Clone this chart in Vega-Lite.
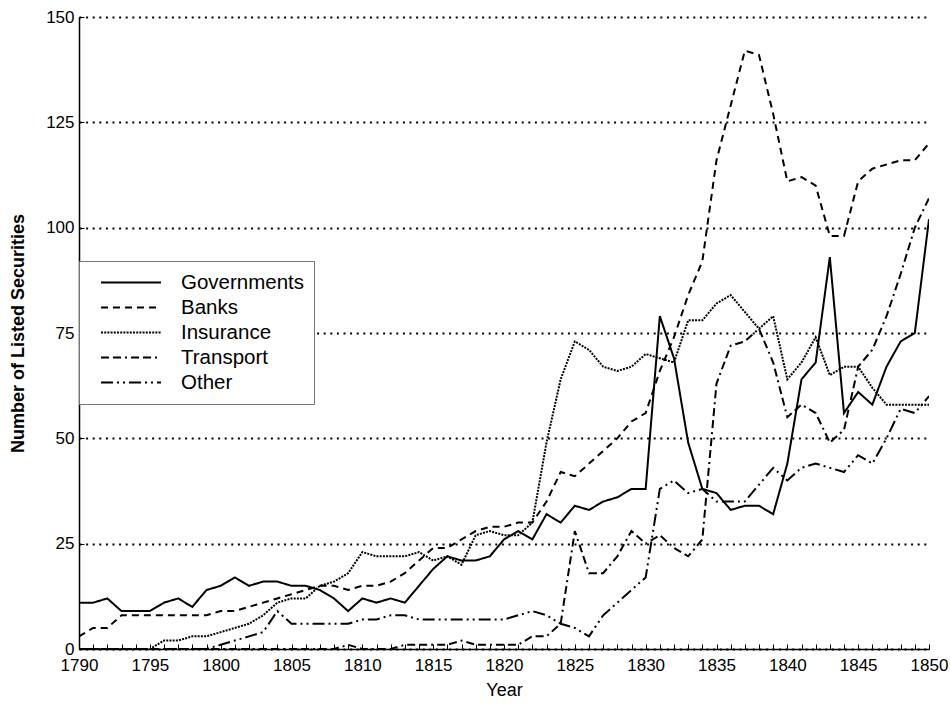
{
  "$schema": "https://vega.github.io/schema/vega-lite/v6.json",
  "autosize": {"type": "none"},
  "padding": {"left": 79, "top": 17, "right": 21, "bottom": 57},
  "width": 850,
  "height": 632,
  "background": "white",
  "config": {
    "view": {"stroke": null},
    "font": "Liberation Sans",
    "axis": {"labelFont": "Liberation Sans", "titleFont": "Liberation Sans", "labelColor": "black", "titleColor": "black", "domainColor": "black", "tickColor": "black"}
  },
  "data": {"values": [
    {"year":1790,"Governments":11,"Banks":3,"Insurance":0,"Transport":0,"Other":0},
    {"year":1791,"Governments":11,"Banks":5,"Insurance":0,"Transport":0,"Other":0},
    {"year":1792,"Governments":12,"Banks":5,"Insurance":0,"Transport":0,"Other":0},
    {"year":1793,"Governments":9,"Banks":8,"Insurance":0,"Transport":0,"Other":0},
    {"year":1794,"Governments":9,"Banks":8,"Insurance":0,"Transport":0,"Other":0},
    {"year":1795,"Governments":9,"Banks":8,"Insurance":0,"Transport":0,"Other":0},
    {"year":1796,"Governments":11,"Banks":8,"Insurance":2,"Transport":0,"Other":0},
    {"year":1797,"Governments":12,"Banks":8,"Insurance":2,"Transport":0,"Other":0},
    {"year":1798,"Governments":10,"Banks":8,"Insurance":3,"Transport":0,"Other":0},
    {"year":1799,"Governments":14,"Banks":8,"Insurance":3,"Transport":0,"Other":0},
    {"year":1800,"Governments":15,"Banks":9,"Insurance":4,"Transport":0,"Other":1},
    {"year":1801,"Governments":17,"Banks":9,"Insurance":5,"Transport":0,"Other":2},
    {"year":1802,"Governments":15,"Banks":10,"Insurance":6,"Transport":0,"Other":3},
    {"year":1803,"Governments":16,"Banks":11,"Insurance":8,"Transport":0,"Other":4},
    {"year":1804,"Governments":16,"Banks":12,"Insurance":11,"Transport":0,"Other":9},
    {"year":1805,"Governments":15,"Banks":13,"Insurance":12,"Transport":0,"Other":6},
    {"year":1806,"Governments":15,"Banks":14,"Insurance":12,"Transport":0,"Other":6},
    {"year":1807,"Governments":14,"Banks":15,"Insurance":15,"Transport":0,"Other":6},
    {"year":1808,"Governments":12,"Banks":15,"Insurance":16,"Transport":0,"Other":6},
    {"year":1809,"Governments":9,"Banks":14,"Insurance":18,"Transport":1,"Other":6},
    {"year":1810,"Governments":12,"Banks":15,"Insurance":23,"Transport":0,"Other":7},
    {"year":1811,"Governments":11,"Banks":15,"Insurance":22,"Transport":0,"Other":7},
    {"year":1812,"Governments":12,"Banks":16,"Insurance":22,"Transport":0,"Other":8},
    {"year":1813,"Governments":11,"Banks":18,"Insurance":22,"Transport":1,"Other":8},
    {"year":1814,"Governments":15,"Banks":21,"Insurance":23,"Transport":1,"Other":7},
    {"year":1815,"Governments":19,"Banks":24,"Insurance":21,"Transport":1,"Other":7},
    {"year":1816,"Governments":22,"Banks":24,"Insurance":22,"Transport":1,"Other":7},
    {"year":1817,"Governments":21,"Banks":26,"Insurance":20,"Transport":2,"Other":7},
    {"year":1818,"Governments":21,"Banks":28,"Insurance":27,"Transport":1,"Other":7},
    {"year":1819,"Governments":22,"Banks":29,"Insurance":28,"Transport":1,"Other":7},
    {"year":1820,"Governments":26,"Banks":29,"Insurance":27,"Transport":1,"Other":7},
    {"year":1821,"Governments":28,"Banks":30,"Insurance":27,"Transport":1,"Other":8},
    {"year":1822,"Governments":26,"Banks":30,"Insurance":30,"Transport":3,"Other":9},
    {"year":1823,"Governments":32,"Banks":35,"Insurance":49,"Transport":3,"Other":8},
    {"year":1824,"Governments":30,"Banks":42,"Insurance":64,"Transport":6,"Other":6},
    {"year":1825,"Governments":34,"Banks":41,"Insurance":73,"Transport":28,"Other":5},
    {"year":1826,"Governments":33,"Banks":44,"Insurance":71,"Transport":18,"Other":3},
    {"year":1827,"Governments":35,"Banks":47,"Insurance":67,"Transport":18,"Other":8},
    {"year":1828,"Governments":36,"Banks":50,"Insurance":66,"Transport":22,"Other":11},
    {"year":1829,"Governments":38,"Banks":54,"Insurance":67,"Transport":28,"Other":14},
    {"year":1830,"Governments":38,"Banks":56,"Insurance":70,"Transport":25,"Other":17},
    {"year":1831,"Governments":79,"Banks":66,"Insurance":69,"Transport":27,"Other":38},
    {"year":1832,"Governments":69,"Banks":74,"Insurance":68,"Transport":24,"Other":40},
    {"year":1833,"Governments":49,"Banks":84,"Insurance":78,"Transport":22,"Other":37},
    {"year":1834,"Governments":38,"Banks":92,"Insurance":78,"Transport":26,"Other":38},
    {"year":1835,"Governments":37,"Banks":116,"Insurance":82,"Transport":63,"Other":35},
    {"year":1836,"Governments":33,"Banks":129,"Insurance":84,"Transport":72,"Other":35},
    {"year":1837,"Governments":34,"Banks":142,"Insurance":80,"Transport":73,"Other":35},
    {"year":1838,"Governments":34,"Banks":141,"Insurance":76,"Transport":76,"Other":39},
    {"year":1839,"Governments":32,"Banks":127,"Insurance":79,"Transport":68,"Other":43},
    {"year":1840,"Governments":44,"Banks":111,"Insurance":64,"Transport":55,"Other":40},
    {"year":1841,"Governments":64,"Banks":112,"Insurance":68,"Transport":58,"Other":43},
    {"year":1842,"Governments":68,"Banks":110,"Insurance":74,"Transport":56,"Other":44},
    {"year":1843,"Governments":93,"Banks":98,"Insurance":65,"Transport":49,"Other":43},
    {"year":1844,"Governments":56,"Banks":98,"Insurance":67,"Transport":52,"Other":42},
    {"year":1845,"Governments":61,"Banks":111,"Insurance":67,"Transport":67,"Other":46},
    {"year":1846,"Governments":58,"Banks":114,"Insurance":62,"Transport":71,"Other":44},
    {"year":1847,"Governments":67,"Banks":115,"Insurance":58,"Transport":79,"Other":50},
    {"year":1848,"Governments":73,"Banks":116,"Insurance":58,"Transport":89,"Other":57},
    {"year":1849,"Governments":75,"Banks":116,"Insurance":58,"Transport":100,"Other":56},
    {"year":1850,"Governments":102,"Banks":120,"Insurance":58,"Transport":107,"Other":60}
  ]},
  "transform": [
    {"fold": ["Governments", "Banks", "Insurance", "Transport", "Other"], "as": ["series", "value"]}
  ],
  "mark": {"type": "line", "color": "black", "strokeWidth": 2, "clip": true},
  "encoding": {
    "x": {
      "field": "year", "type": "quantitative",
      "scale": {"domain": [1790, 1850], "nice": false, "zero": false},
      "axis": {
        "title": "Year", "titleFontSize": 18, "titleFontWeight": "normal", "titlePadding": 8,
        "values": [1790,1791,1792,1793,1794,1795,1796,1797,1798,1799,1800,1801,1802,1803,1804,1805,1806,1807,1808,1809,1810,1811,1812,1813,1814,1815,1816,1817,1818,1819,1820,1821,1822,1823,1824,1825,1826,1827,1828,1829,1830,1831,1832,1833,1834,1835,1836,1837,1838,1839,1840,1841,1842,1843,1844,1845,1846,1847,1848,1849,1850],
        "format": "d",
        "labelExpr": "datum.value % 5 === 0 ? datum.label : ''",
        "labelFontSize": 17, "labelPadding": 13, "labelFlush": false, "labelOverlap": false,
        "tickSize": -5, "tickWidth": 1, "domainWidth": 1.5, "grid": false
      }
    },
    "y": {
      "field": "value", "type": "quantitative",
      "scale": {"domain": [0, 150], "nice": false},
      "axis": {
        "title": "Number of Listed Securities", "titleFontSize": 18, "titleFontWeight": "bold", "titlePadding": 18,
        "values": [0, 25, 50, 75, 100, 125, 150],
        "labelFontSize": 17, "labelPadding": 10,
        "tickSize": -5, "tickWidth": 1, "domainWidth": 1.5,
        "grid": true, "gridColor": "black", "gridDash": [2, 4.6], "gridWidth": 2, "gridOpacity": 1
      }
    },
    "strokeDash": {
      "field": "series", "type": "nominal",
      "scale": {
        "domain": ["Governments", "Banks", "Insurance", "Transport", "Other"],
        "range": [[1, 0], [7, 5], [2, 1.2], [8, 4, 8, 4, 2, 4], [12, 4, 2, 4, 2, 4]]
      },
      "legend": {
        "title": null, "orient": "none", "legendX": 0, "legendY": 244,
        "symbolType": "stroke", "symbolSize": 3600, "symbolStrokeWidth": 2, "symbolStrokeColor": "black",
        "symbolOffset": 12,
        "clipHeight": 25, "rowPadding": 0,
        "labelFontSize": 20.5, "labelFont": "Liberation Sans", "labelColor": "black", "labelOffset": 19,
        "fillColor": "white", "strokeColor": "#777", "padding": 9
      }
    },
    "strokeWidth": {
      "field": "series", "type": "nominal",
      "scale": {"domain": ["Governments", "Banks", "Insurance", "Transport", "Other"], "range": [2, 2, 3, 2, 2]},
      "legend": null
    }
  }
}
